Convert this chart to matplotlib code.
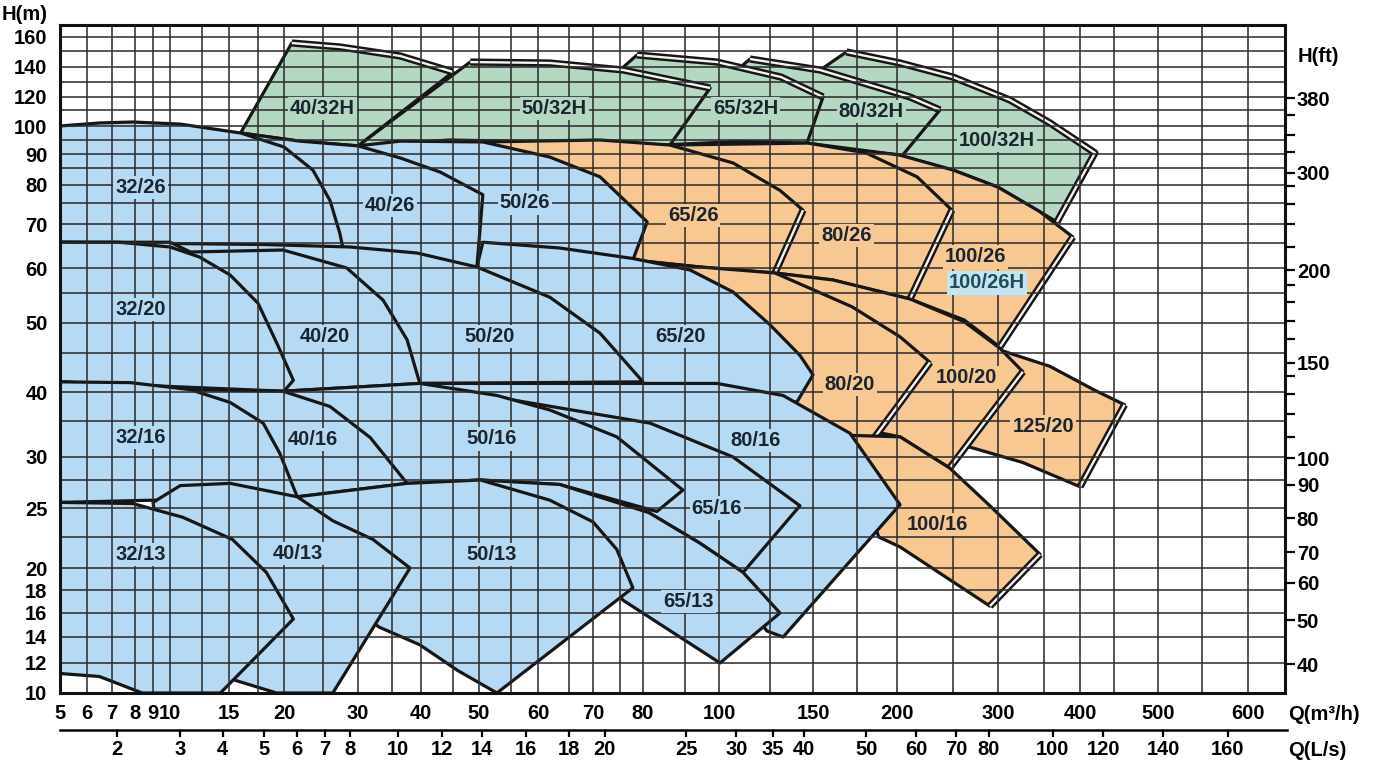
import matplotlib
matplotlib.use("Agg")
import matplotlib.pyplot as plt
from matplotlib.patches import Polygon
import numpy as np

plt.rcParams['font.family'] = ['Liberation Sans', 'DejaVu Sans']
plt.rcParams['font.weight'] = 'bold'

# The sheet's axes are hand drawn (neither linear nor log), so the scales are
# calibrated from the grid: grid value -> where it sits on the 1377x769 sheet
Q_GRID = [5, 6, 7, 8, 9, 10, 12.5, 15, 17.5, 20, 25, 30, 35, 40, 45, 50, 55, 60, 65, 70,
          75, 80, 90, 100, 125, 150, 175, 200, 250, 300, 350, 400, 450, 500, 550, 600, 640]
Q_GRID_PX = [60, 87, 112, 135, 153, 170, 202, 229, 258, 284, 323, 358, 392, 421, 453, 479,
             511, 538, 569, 593, 620, 643, 685, 719, 770, 813, 857, 897, 953, 998, 1044,
             1080, 1114, 1158, 1202, 1248, 1285]
H_GRID = [10, 12, 14, 16, 18, 20, 22.5, 25, 27.5, 30, 35, 40, 45, 50, 55, 60, 65, 70, 75,
          80, 85, 90, 95, 100, 110, 120, 130, 140, 150, 160, 169]
H_GRID_PX = [693, 663, 637, 613, 590, 568, 537, 508, 480, 457, 421, 392, 353, 323, 293,
             268, 243, 224, 203, 185, 168, 154, 140, 126, 110, 97, 82, 67, 51, 37, 25]
FT_GRID = [32.8, 40, 50, 60, 70, 80, 90, 100, 110, 120, 130, 140, 150, 160, 170, 180, 190,
           200, 220, 240, 260, 280, 300, 320, 340, 360, 380, 555]
FT_GRID_PX = [693, 664, 620, 583, 552, 518, 485, 458, 437, 414, 394, 376, 363, 339, 321,
              302, 285, 270, 247, 224, 204, 186, 173, 152, 135, 115, 98, 25]

# tick labels
Q_TICKS = [5, 6, 7, 8, 9, 10, 15, 20, 30, 40, 50, 60, 70, 80, 100, 150, 200, 300, 400, 500, 600]
H_TICKS = [10, 12, 14, 16, 18, 20, 25, 30, 40, 50, 60, 70, 80, 90, 100, 120, 140, 160]
FT_MAJOR = [40, 50, 60, 70, 80, 90, 100, 150, 200, 300, 380]
FT_MINOR = [110, 120, 130, 140, 160, 170, 180, 190, 220, 240, 260, 280, 320, 340, 360]
LS_TICKS = [2, 3, 4, 5, 6, 7, 8, 10, 12, 14, 16, 18, 20, 25, 30, 35, 40, 50, 60, 70, 80,
            100, 120, 140, 160]

# pump ranges: outline corners as (Q m3/h, H m)
P_100_32H = [(147, 93.5), (155.7, 139.3), (169, 149.4), (202.7, 142.5), (250, 133.3),
             (313, 117.7), (358, 102), (422, 90.4), (368, 70.5), (300, 79.4), (250, 84.4),
             (203, 89.4)]
P_80_32H = [(110, 93.5), (112, 141.5), (115.2, 145), (154, 138), (211.6, 120), (238.4, 110),
            (205, 89.6), (171, 91.5), (147, 93.5)]
P_65_32H = [(75, 92.5), (75, 138), (78.7, 147.5), (99.4, 143.1), (131.4, 133.3),
            (155.7, 120), (146.5, 93.9), (110, 94.5)]
P_50_32H = [(30, 92.9), (48.3, 143.1), (61.9, 142.5), (75.7, 138), (97.4, 126),
            (86.4, 93.2), (62, 94.3), (44.5, 95)]
P_40_32H = [(16, 97.5), (21, 155.7), (27.4, 152.9), (36.4, 146.9), (45, 136.7),
            (30, 92.9), (22, 94.6)]

P_100_26 = [(146.5, 93.9), (202.7, 89.6), (250, 84.4), (300, 79.4), (345, 73), (390, 66.6),
            (302, 46), (262.5, 50.5), (211.6, 54), (161.4, 57.6), (146.5, 60)]
P_80_26 = [(86.4, 93.2), (147, 93.9), (180.6, 90.4), (217.9, 82.4), (249, 73.3),
           (211.6, 54), (161.4, 57.6), (127.9, 59), (94.4, 60.2)]
P_65_26 = [(50.6, 94.3), (71.3, 95), (86.4, 93.2), (106.9, 86.8), (130.8, 78.5),
           (144.2, 73.3), (127.9, 59), (94.4, 60.2), (77.8, 61.6), (50.6, 65)]
P_50_26 = [(30, 92.9), (36.4, 94.6), (50.6, 94.3), (61.9, 88.9), (71.3, 82.4), (81, 70.5),
           (77.8, 61.6), (50.6, 65), (30, 65)]
P_40_26 = [(16, 97.5), (22, 94.6), (30, 92.9), (36.4, 88.6), (43, 83.8), (50.6, 77.3),
           (49.6, 60.2), (28.4, 60.2), (16, 60)]
P_32_26 = [(5, 100), (6.5, 101.9), (7.9, 102.5), (10.8, 101.2), (16, 97.5), (20, 92.5),
           (23.7, 84.4), (26, 75.7), (27.4, 67.6), (28.4, 60.2), (5, 60.2)]

P_125_20 = [(250, 47), (302, 45.5), (358, 43.3), (420, 40.3), (462, 37.8), (400, 26.9),
            (327, 29.4), (268, 31.4), (250, 31)]
P_100_20 = [(127.9, 59), (161.4, 57.6), (211.6, 54), (262.5, 50.2), (302, 45.8),
            (327, 42.6), (247, 28.8), (202.7, 32.8), (175, 34), (127.9, 40)]
P_80_20 = [(77.8, 61.6), (94.4, 60.2), (127.9, 59), (172.2, 52.7), (202.7, 47.7),
           (229.5, 43.8), (178.6, 30.5), (152.3, 35.3), (123.5, 39.2), (94.4, 39.2),
           (77.8, 45)]
P_65_20 = [(49.6, 60.2), (50.6, 65.2), (63.5, 64), (77.8, 61.9), (91.5, 59.6),
           (106.9, 55.2), (125, 49.7), (142.4, 44.7), (150, 42.2), (140.7, 38.3),
           (120, 38), (60, 38), (49.6, 55)]
P_50_20 = [(5, 65.2), (18, 64.7), (28.9, 64.2), (39.3, 63), (49.6, 60.2), (61.9, 54.3),
           (71.3, 48.3), (80, 41.3), (39.8, 41.1), (19.9, 40.1), (5, 40.3)]
P_40_20 = [(5, 65.2), (10, 65.2), (11.6, 63.2), (19.9, 63.6), (28.4, 60), (33.7, 53.8),
           (37.6, 47.2), (39.8, 41.1), (19.9, 40.1), (5, 40.3)]
P_32_20 = [(5, 65.2), (7.3, 65.2), (10, 64.2), (12.3, 62.2), (15.1, 58.6), (17.5, 53.3),
           (19.4, 46.3), (21.2, 41.5), (20, 40.1), (5, 41.3)]

P_100_16 = [(172, 33), (202.7, 32.8), (247, 28.8), (291, 25.2), (345.7, 21.1),
            (291, 16.6), (202.7, 21.7), (188.6, 22.5), (180, 26)]
P_80_16 = [(39.8, 41.1), (99.4, 41.1), (132.6, 39.4), (171, 33.3), (202.7, 25.3),
           (132.6, 14), (123.5, 14.5), (94.4, 22), (65, 27.5), (50, 30), (39.8, 37)]
P_65_16 = [(53.3, 39), (57.4, 38.3), (81.7, 34.7), (106.9, 30), (142.4, 25.2),
           (111.8, 19.6), (94.4, 22), (81.4, 24.6), (63.5, 27.1), (50.2, 27.5)]
P_50_16 = [(19.9, 40.1), (39.8, 41.1), (52.8, 39.4), (61.9, 36.9), (74.4, 32.8),
           (89.5, 26.6), (83.3, 24.7), (63.5, 27.1), (50.2, 27.5), (37.6, 27.2), (21.7, 26)]
P_40_16 = [(5, 41.3), (11.6, 40.3), (19.9, 40.1), (26, 37.5), (31.8, 32.7), (37.6, 27.2),
           (21.7, 26), (5, 26)]
P_32_16 = [(5, 41.3), (7.8, 41.2), (11.6, 40.3), (15.1, 38.2), (18, 34.7), (19.6, 30.5),
           (21.7, 26), (5, 25.5)]

P_65_13 = [(50.2, 27.5), (63.5, 27.1), (81.4, 24.6), (94.4, 22), (111.8, 19.6),
           (130.8, 16), (100.5, 12), (75.7, 17.1), (70, 20)]
P_50_13 = [(21.7, 26), (37.6, 27.2), (50.2, 27.5), (61.9, 25.7), (70, 23.8), (74.4, 21.5),
           (77.8, 18.2), (52.8, 10), (45.9, 11.5), (39.8, 13.4), (33.2, 14.8), (25, 18)]
P_40_13 = [(9, 25.5), (10.8, 27), (15.1, 27.2), (21.7, 26), (26.4, 23.9), (32.2, 22.3),
           (38.1, 20), (26.4, 10), (19.3, 10), (15.3, 10.9), (10, 15)]
P_32_13 = [(5, 25.5), (7.9, 25.4), (11, 24.2), (15.3, 22.3), (18.3, 19.6), (21.2, 15.5),
           (14.2, 10), (8.4, 10), (6.5, 11.1), (5, 11.3)]

BLUE = '#b6daf3'
ORANGE = '#f7c891'
GREEN = '#b5d8c2'

# painting order (back to front): name, outline, fill, stretch drawn as a double line
REGIONS = [
    ('100/32H', P_100_32H, GREEN, (2, 8)),
    ('80/32H', P_80_32H, GREEN, (2, 5)),
    ('65/32H', P_65_32H, GREEN, (2, 5)),
    ('50/32H', P_50_32H, GREEN, (1, 4)),
    ('40/32H', P_40_32H, GREEN, (1, 4)),
    ('100/26', P_100_26, ORANGE, (5, 6)),
    ('80/26', P_80_26, ORANGE, (4, 5)),
    ('65/26', P_65_26, ORANGE, (5, 6)),
    ('50/26', P_50_26, BLUE, None),
    ('40/26', P_40_26, BLUE, None),
    ('32/26', P_32_26, BLUE, None),
    ('125/20', P_125_20, ORANGE, (4, 5)),
    ('100/20', P_100_20, ORANGE, (5, 6)),
    ('80/20', P_80_20, ORANGE, (5, 6)),
    ('65/20', P_65_20, BLUE, None),
    ('50/20', P_50_20, BLUE, None),
    ('40/20', P_40_20, BLUE, None),
    ('32/20', P_32_20, BLUE, None),
    ('100/16', P_100_16, ORANGE, (4, 5)),
    ('80/16', P_80_16, BLUE, None),
    ('65/16', P_65_16, BLUE, None),
    ('50/16', P_50_16, BLUE, None),
    ('40/16', P_40_16, BLUE, None),
    ('32/16', P_32_16, BLUE, None),
    ('65/13', P_65_13, BLUE, None),
    ('50/13', P_50_13, BLUE, None),
    ('40/13', P_40_13, BLUE, None),
    ('32/13', P_32_13, BLUE, None),
]

# label centres (Q, H)
LABELS = {
    '40/32H': (24.9, 111), '50/32H': (62.6, 111), '65/32H': (113, 111), '80/32H': (184, 109),
    '100/32H': (299, 95),
    '32/26': (8.3, 79.4), '40/26': (34.7, 74.5), '50/26': (57.6, 75), '65/26': (92.4, 72),
    '80/26': (169, 67), '100/26': (275, 62.2),
    '32/20': (8.3, 52.2), '40/20': (25.3, 47.7), '50/20': (51.7, 47.7), '65/20': (89, 47.7),
    '80/20': (171, 41), '100/20': (265, 41.8), '125/20': (349, 34.3),
    '32/16': (8.3, 32.7), '40/16': (23.7, 32.4), '50/16': (52, 32.5), '65/16': (99.4, 25),
    '80/16': (118, 32.3), '100/16': (236, 23.6),
    '32/13': (8.3, 21.1), '40/13': (21.8, 21.2), '50/13': (52, 21.1), '65/13': (91, 17),
}
EXTRA_LABEL = ('100/26H', 288, 57)


def calibrated(vals, px, flip):
    vals = np.asarray(vals, float)
    px = np.asarray(px, float)
    if flip:
        px = -px
    def fwd(v):
        return np.interp(v, vals, px)
    def inv(p):
        return np.interp(p, px, vals)
    return fwd, inv


q_scale = calibrated(Q_GRID, Q_GRID_PX, False)
h_scale = calibrated(H_GRID, H_GRID_PX, True)
ft_scale = calibrated(FT_GRID, FT_GRID_PX, True)

W, H = 1377, 769
FS = 14.5
fig = plt.figure(figsize=(W / 100, H / 100), dpi=100)
rect = [60 / W, (H - 693) / H, 1225 / W, 668 / H]
ax = fig.add_axes(rect)
ax.set_xscale('function', functions=q_scale)
ax.set_yscale('function', functions=h_scale)
ax.set_xlim(Q_GRID[0], Q_GRID[-1])
ax.set_ylim(H_GRID[0], H_GRID[-1])

ink = '#161616'
for k, (name, pts, col, dbl) in enumerate(REGIONS):
    z = 1 + 0.04 * k
    ax.add_patch(Polygon(pts, closed=True, fc=col, ec=ink, lw=2.3, joinstyle='round', zorder=z))
    if dbl:
        seg = np.array(pts[dbl[0]:dbl[1] + 1])
        ax.plot(seg[:, 0], seg[:, 1], color=ink, lw=5.2, solid_capstyle='butt', zorder=z + 0.01)
        ax.plot(seg[:, 0], seg[:, 1], color='#f6f2ec', lw=1.7, solid_capstyle='butt', zorder=z + 0.02)

fills = dict((r[0], r[2]) for r in REGIONS)
for name, (q, h) in LABELS.items():
    ax.text(q, h, name, ha='center', va='center', fontsize=FS, color='#1b2530', zorder=5,
            bbox=dict(boxstyle='square,pad=0.1', fc=fills[name], ec='none'))
ax.text(EXTRA_LABEL[1], EXTRA_LABEL[2], EXTRA_LABEL[0], ha='center', va='center', fontsize=FS,
        color='#1d4d5a', zorder=5, bbox=dict(boxstyle='square,pad=0.1', fc='#c3e4f2', ec='none'))

# grid and main ticks
ax.set_xticks(Q_TICKS)
ax.set_xticklabels([str(v) for v in Q_TICKS])
ax.set_xticks(Q_GRID[1:-1], minor=True)
ax.set_yticks(H_TICKS)
ax.set_yticklabels([str(v) for v in H_TICKS])
ax.set_yticks(H_GRID[1:-1], minor=True)
ax.set_axisbelow(False)
ax.grid(True, which='both', color='#2a2a2a', lw=1.3, alpha=0.85)
ax.tick_params(which='both', length=0, labelsize=FS)
ax.tick_params(axis='x', pad=8)
ax.tick_params(axis='y', pad=9)
for s in ax.spines.values():
    s.set_linewidth(2.2)
    s.set_color('#111111')
    s.set_zorder(6)

# right axis in feet
axr = ax.twinx()
axr.set_yscale('function', functions=ft_scale)
axr.set_ylim(FT_GRID[0], FT_GRID[-1])
axr.set_yticks(FT_MAJOR)
axr.set_yticklabels([str(v) for v in FT_MAJOR])
axr.set_yticks(FT_MINOR, minor=True)
axr.tick_params(which='both', direction='out', length=7, width=1.6, labelsize=FS, pad=1.5)
for s in axr.spines.values():
    s.set_visible(False)

# second flow axis in L/s
axl = fig.add_axes([60 / W, (H - 730) / H, 1227 / W, 0.0005])
axl.set_xscale('function', functions=q_scale)
axl.set_xlim(Q_GRID[0], Q_GRID[-1])
axl.set_xticks([3.6 * v for v in LS_TICKS])
axl.set_xticklabels([str(v) for v in LS_TICKS])
axl.set_yticks([])
axl.patch.set_visible(False)
for side in ['left', 'right', 'top']:
    axl.spines[side].set_visible(False)
axl.spines['bottom'].set_linewidth(1.8)
axl.tick_params(axis='x', direction='out', length=5, width=1.6, labelsize=FS, pad=2.5)

fig.text(25 / W, 1 - 15 / H, 'H(m)', ha='center', va='center', fontsize=FS)
fig.text(1318 / W, 1 - 57 / H, 'H(ft)', ha='center', va='center', fontsize=FS)
fig.text(1288 / W, 1 - 714 / H, 'Q(m³/h)', ha='left', va='center', fontsize=FS)
fig.text(1288 / W, 1 - 750 / H, 'Q(L/s)', ha='left', va='center', fontsize=FS)

fig.savefig('out.png', dpi=100)
